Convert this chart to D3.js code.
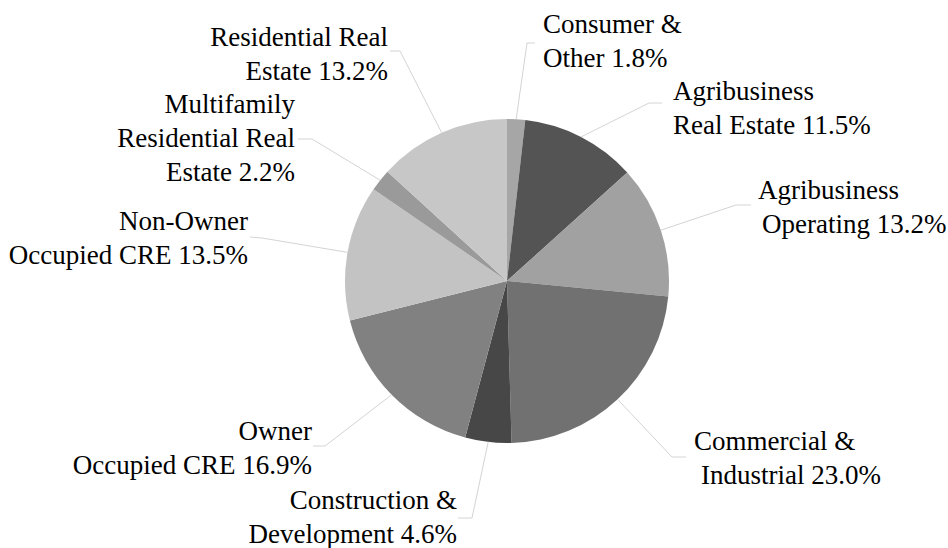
<!DOCTYPE html>
<html>
<head>
<meta charset="utf-8">
<script src="https://cdn.jsdelivr.net/npm/d3@7"></script>
</head>
<body style="margin:0">
<script>
// loan portfolio pie, slices clockwise from 12 o'clock
const categories = [
  "Consumer & Other",
  "Agribusiness Real Estate",
  "Agribusiness Operating",
  "Commercial & Industrial",
  "Construction & Development",
  "Owner Occupied CRE",
  "Non-Owner Occupied CRE",
  "Multifamily Residential Real Estate",
  "Residential Real Estate"
];
const shares = [1.8, 11.5, 13.2, 23.0, 4.6, 16.9, 13.5, 2.2, 13.2];
// how each category name wraps in its label (value goes on the last line)
const nameLines = [
  ["Consumer &", "Other"],
  ["Agribusiness", "Real Estate"],
  ["Agribusiness", "Operating"],
  ["Commercial &", "Industrial"],
  ["Construction &", "Development"],
  ["Owner", "Occupied CRE"],
  ["Non-Owner", "Occupied CRE"],
  ["Multifamily", "Residential Real", "Estate"],
  ["Residential Real", "Estate"]
];
const sliceColors = ["#a6a6a6", "#545454", "#a1a1a1", "#717171", "#474747",
                     "#818181", "#c3c3c3", "#9a9a9a", "#c7c7c7"];

const W = 948, H = 548;
const cx = 507, cy = 281, R = 162;
const lineH = 34;

// label placement: anchor, x per line, first baseline, leader elbow + end
const labelLayout = [
  { anchor: "start", xs: [543, 543], y: 33,  elbow: [527, 43],  end: [535, 43] },
  { anchor: "start", xs: [673, 673], y: 100, elbow: [649, 103], end: [662, 103] },
  { anchor: "start", xs: [758, 762], y: 199, elbow: [736, 205], end: [751, 205] },
  { anchor: "start", xs: [694, 701], y: 450, elbow: [672, 457], end: [686, 457] },
  { anchor: "end",   xs: [457, 457], y: 509, elbow: [472, 518], end: [458, 518] },
  { anchor: "end",   xs: [312, 312], y: 440, elbow: [325, 446], end: [313, 446] },
  { anchor: "end",   xs: [248, 248], y: 230, elbow: [262, 238], end: [250, 237] },
  { anchor: "end",   xs: [295, 295, 295], y: 113, elbow: [312, 139], end: [298, 139] },
  { anchor: "end",   xs: [388, 388], y: 46,  elbow: [400, 51],  end: [390, 51] }
];

const svg = d3.select("body")
  .append("svg")
  .attr("width", W)
  .attr("height", H);

const data = categories.map((c, i) => ({ name: c, value: shares[i], i }));

const pie = d3.pie().sort(null).value(d => d.value);
const arcs = pie(data);

const arc = d3.arc().innerRadius(0).outerRadius(R);
const edge = d3.arc().innerRadius(R).outerRadius(R);

const g = svg.append("g").attr("transform", `translate(${cx},${cy})`);

g.selectAll("path.slice")
  .data(arcs)
  .enter()
  .append("path")
  .attr("class", "slice")
  .attr("d", arc)
  .attr("fill", d => sliceColors[d.index]);

// leader lines
const line = d3.line();
svg.append("g")
  .selectAll("path")
  .data(arcs)
  .enter()
  .append("path")
  .attr("d", d => {
    const c = edge.centroid(d);
    const lay = labelLayout[d.index];
    return line([[cx + c[0], cy + c[1]], lay.elbow, lay.end]);
  })
  .attr("fill", "none")
  .attr("stroke", "#d4d4d4")
  .attr("stroke-width", 1);

// labels, one text per line
data.forEach((d, i) => {
  const lay = labelLayout[i];
  const lines = nameLines[i].slice();
  lines[lines.length - 1] += " " + d.value.toFixed(1) + "%";
  lines.forEach((s, k) => {
    svg.append("text")
      .attr("x", lay.xs[k])
      .attr("y", lay.y + k * lineH)
      .attr("text-anchor", lay.anchor)
      .style("font-family", '"Liberation Serif"')
      .style("font-size", "27px")
      .text(s);
  });
});
</script>
</body>
</html>
